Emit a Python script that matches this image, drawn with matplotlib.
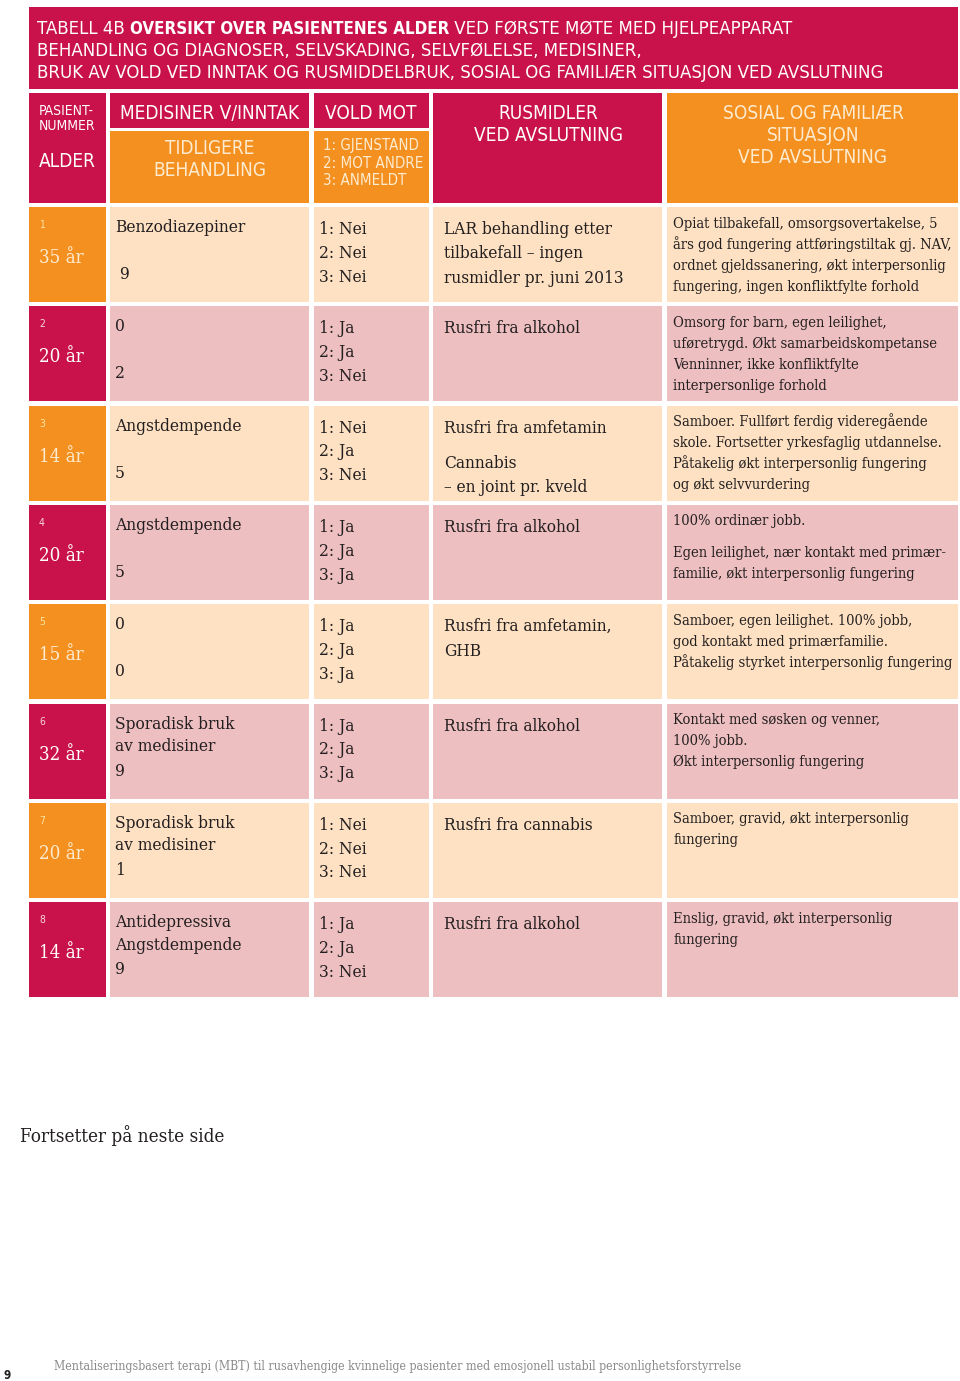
import matplotlib
matplotlib.use("Agg")
import matplotlib.pyplot as plt
from matplotlib.patches import Rectangle
from matplotlib import font_manager as fm

# ---------------- data ----------------
patient_ids = [1, 2, 3, 4, 5, 6, 7, 8]
ages = ["35 år", "20 år", "14 år", "20 år", "15 år", "32 år", "20 år", "14 år"]
medisiner = ["Benzodiazepiner", "0", "Angstdempende", "Angstdempende", "0",
             "Sporadisk bruk\nav medisiner", "Sporadisk bruk\nav medisiner",
             "Antidepressiva\nAngstdempende"]
tidligere = [" 9", "2", "5", "5", "0", "9", "1", "9"]
vold_gjenstand = ["Nei", "Ja", "Nei", "Ja", "Ja", "Ja", "Nei", "Ja"]
vold_andre = ["Nei", "Ja", "Ja", "Ja", "Ja", "Ja", "Nei", "Ja"]
vold_anmeldt = ["Nei", "Nei", "Nei", "Ja", "Ja", "Ja", "Nei", "Nei"]
rusmidler = ["LAR behandling etter\ntilbakefall – ingen\nrusmidler pr. juni 2013",
             "Rusfri fra alkohol",
             "Rusfri fra amfetamin\n\nCannabis\n– en joint pr. kveld",
             "Rusfri fra alkohol",
             "Rusfri fra amfetamin,\nGHB",
             "Rusfri fra alkohol",
             "Rusfri fra cannabis",
             "Rusfri fra alkohol"]
sosial = ["Opiat tilbakefall, omsorgsovertakelse, 5\nårs god fungering attføringstiltak gj. NAV,\nordnet gjeldssanering, økt interpersonlig\nfungering, ingen konfliktfylte forhold",
          "Omsorg for barn, egen leilighet,\nuføretrygd. Økt samarbeidskompetanse\nVenninner, ikke konfliktfylte\ninterpersonlige forhold",
          "Samboer. Fullført ferdig videregående\nskole. Fortsetter yrkesfaglig utdannelse.\nPåtakelig økt interpersonlig fungering\nog økt selvvurdering",
          "100% ordinær jobb.\n\nEgen leilighet, nær kontakt med primær-\nfamilie, økt interpersonlig fungering",
          "Samboer, egen leilighet. 100% jobb,\ngod kontakt med primærfamilie.\nPåtakelig styrket interpersonlig fungering",
          "Kontakt med søsken og venner,\n100% jobb.\nØkt interpersonlig fungering",
          "Samboer, gravid, økt interpersonlig\nfungering",
          "Enslig, gravid, økt interpersonlig\nfungering"]

title_lines = [[("TABELL 4B ", "normal"), ("OVERSIKT OVER PASIENTENES ALDER", "bold"),
                (" VED FØRSTE MØTE MED HJELPEAPPARAT", "normal")],
               [("BEHANDLING OG DIAGNOSER, SELVSKADING, SELVFØLELSE, MEDISINER,", "normal")],
               [("BRUK AV VOLD VED INNTAK OG RUSMIDDELBRUK, SOSIAL OG FAMILIÆR SITUASJON VED AVSLUTNING", "normal")]]
footer_note = "Fortsetter på neste side"
footer_text = "Mentaliseringsbasert terapi (MBT) til rusavhengige kvinnelige pasienter med emosjonell ustabil personlighetsforstyrrelse"
page_no = "9"

# ---------------- style ----------------
CRIMSON = "#C9114B"
ORANGE = "#F39020"
PEACH = "#FDE1C2"
PINK = "#EEBFC0"
CREAM = "#FDEBCF"
DARK = "#231F20"

entries = fm.fontManager.ttflist
def has_font(name, stretch=None):
    for f in entries:
        if f.name == name and (stretch is None or str(f.stretch) == stretch):
            return True
    return False

if has_font("Liberation Sans Narrow"):
    SANS = dict(family="Liberation Sans Narrow")
elif has_font("DejaVu Sans", "condensed"):
    SANS = dict(family="DejaVu Sans", stretch="condensed")
else:
    SANS = dict(family="Roboto")
if has_font("DejaVu Serif", "condensed"):
    SERIF = dict(family="DejaVu Serif", stretch="condensed")
else:
    SERIF = dict(family="DejaVu Serif")

fig = plt.figure(figsize=(9.6, 13.81), dpi=100)
ax = fig.add_axes([0, 0, 1, 1])
ax.set_xlim(0, 960)
ax.set_ylim(1381, 0)
ax.axis("off")
renderer = fig.canvas.get_renderer()

def width_of(s, size, font, weight="normal"):
    t = ax.text(0, 0, s, fontsize=size, weight=weight, **font)
    w = t.get_window_extent(renderer).width
    t.remove()
    return w

def fit(s, target, font, weight="normal"):
    return 10.0 * target / width_of(s, 10, font, weight)

# font sizes fitted to measured widths in the reference
fs_title = fit(title_lines[2][0][0], 845, SANS)
fs_title_bold = min(fit(title_lines[0][1][0], 318, SANS, "bold"), fs_title)
fs_head = fit("MEDISINER V/INNTAK", 180, SANS)
fs_head_small = fit("1: GJENSTAND", 96, SANS)
fs_pas = fit("PASIENT-", 55, SANS)
fs_body = min(fit("rusmidler pr. juni 2013", 180, SERIF), 13.5)
fs_soc = min(fit("Påtakelig styrket interpersonlig fungering", 280, SERIF), 11.5)
fs_age = fit("35 år", 45, SERIF)
fs_num = 7.5
fs_note = fit(footer_note, 204, SERIF)
fs_foot = fit(footer_text, 683, SERIF)

def box(x0, y0, x1, y1, color):
    ax.add_patch(Rectangle((x0, y0), x1 - x0, y1 - y0, facecolor=color, edgecolor="none"))

def lines(x, y, text, step, size, font, color=DARK, gap=11, ha="left"):
    for ln in text.split("\n"):
        if ln == "":
            y += gap
            continue
        ax.text(x, y, ln, fontsize=size, color=color, ha=ha, va="baseline", **font)
        y += step

# ---------------- title band ----------------
box(29, 7, 958, 89, CRIMSON)
for i, parts in enumerate(title_lines):
    x = 37
    y = 34 + i * 22
    for s, w in parts:
        size = fs_title_bold if w == "bold" else fs_title
        t = ax.text(x, y, s, fontsize=size, weight=w, color="white", va="baseline", **SANS)
        x += t.get_window_extent(renderer).width

# ---------------- header ----------------
cols = [(29, 106), (110, 309), (314, 429), (433, 662), (667, 958)]
box(29, 93, 106, 203, CRIMSON)
box(110, 93, 309, 128, CRIMSON)
box(110, 131, 309, 203, ORANGE)
box(314, 93, 429, 128, CRIMSON)
box(314, 131, 429, 203, ORANGE)
box(433, 93, 662, 203, CRIMSON)
box(667, 93, 958, 203, ORANGE)

lines(39, 114.5, "PASIENT-\nNUMMER", 15, fs_pas, SANS, color="white")
ax.text(39, 166.5, "ALDER", fontsize=fs_head, color="white", va="baseline", **SANS)
ax.text(209.5, 118.5, "MEDISINER V/INNTAK", fontsize=fs_head, color="white", ha="center", va="baseline", **SANS)
lines(209.5, 153.5, "TIDLIGERE\nBEHANDLING", 22, fs_head, SANS, color=CREAM, ha="center")
ax.text(325, 118.5, "VOLD MOT", fontsize=fs_head, color="white", va="baseline", **SANS)
lines(323, 150, "1: GJENSTAND\n2: MOT ANDRE\n3: ANMELDT", 17.5, fs_head_small, SANS, color=CREAM)
lines(548, 118.5, "RUSMIDLER\nVED AVSLUTNING", 22, fs_head, SANS, color="white", ha="center")
lines(813, 118.5, "SOSIAL OG FAMILIÆR\nSITUASJON\nVED AVSLUTNING", 22, fs_head, SANS, color=CREAM, ha="center")

# ---------------- rows ----------------
for i in range(len(patient_ids)):
    top = 207 + i * 99.3
    bot = top + 95
    odd = (i % 2 == 0)
    first = ORANGE if odd else CRIMSON
    fill = PEACH if odd else PINK
    for j, (x0, x1) in enumerate(cols):
        box(x0, top, x1, bot, first if j == 0 else fill)
    numcol = "#FCE3A0" if odd else "#F6D6DE"
    ax.text(39, top + 21, str(patient_ids[i]), fontsize=fs_num, color=numcol, va="baseline", **SANS)
    ax.text(39, top + 56, ages[i], fontsize=fs_age, color=CREAM if odd else "white", va="baseline", **SERIF)
    lines(115, top + 25, medisiner[i], 22.5, fs_body, SERIF)
    ax.text(115, top + 72, tidligere[i], fontsize=fs_body, color=DARK, va="baseline", **SERIF)
    vold = "1: %s\n2: %s\n3: %s" % (vold_gjenstand[i], vold_andre[i], vold_anmeldt[i])
    lines(319, top + 27, vold, 23.8, fs_body, SERIF)
    lines(444, top + 27, rusmidler[i], 24.3, fs_body, SERIF)
    lines(673, top + 20.5, sosial[i], 21, fs_soc, SERIF)

# ---------------- footer ----------------
ax.text(20, 1142, footer_note, fontsize=fs_note, color=DARK, va="baseline", **SERIF)
ax.text(54, 1370, footer_text, fontsize=fs_foot, color="#8a8a8a", va="baseline", **SERIF)
ax.text(3, 1379, page_no, fontsize=8.5, color=DARK, weight="bold", va="baseline", **SANS)

fig.savefig("out.png", dpi=100, facecolor="white")
